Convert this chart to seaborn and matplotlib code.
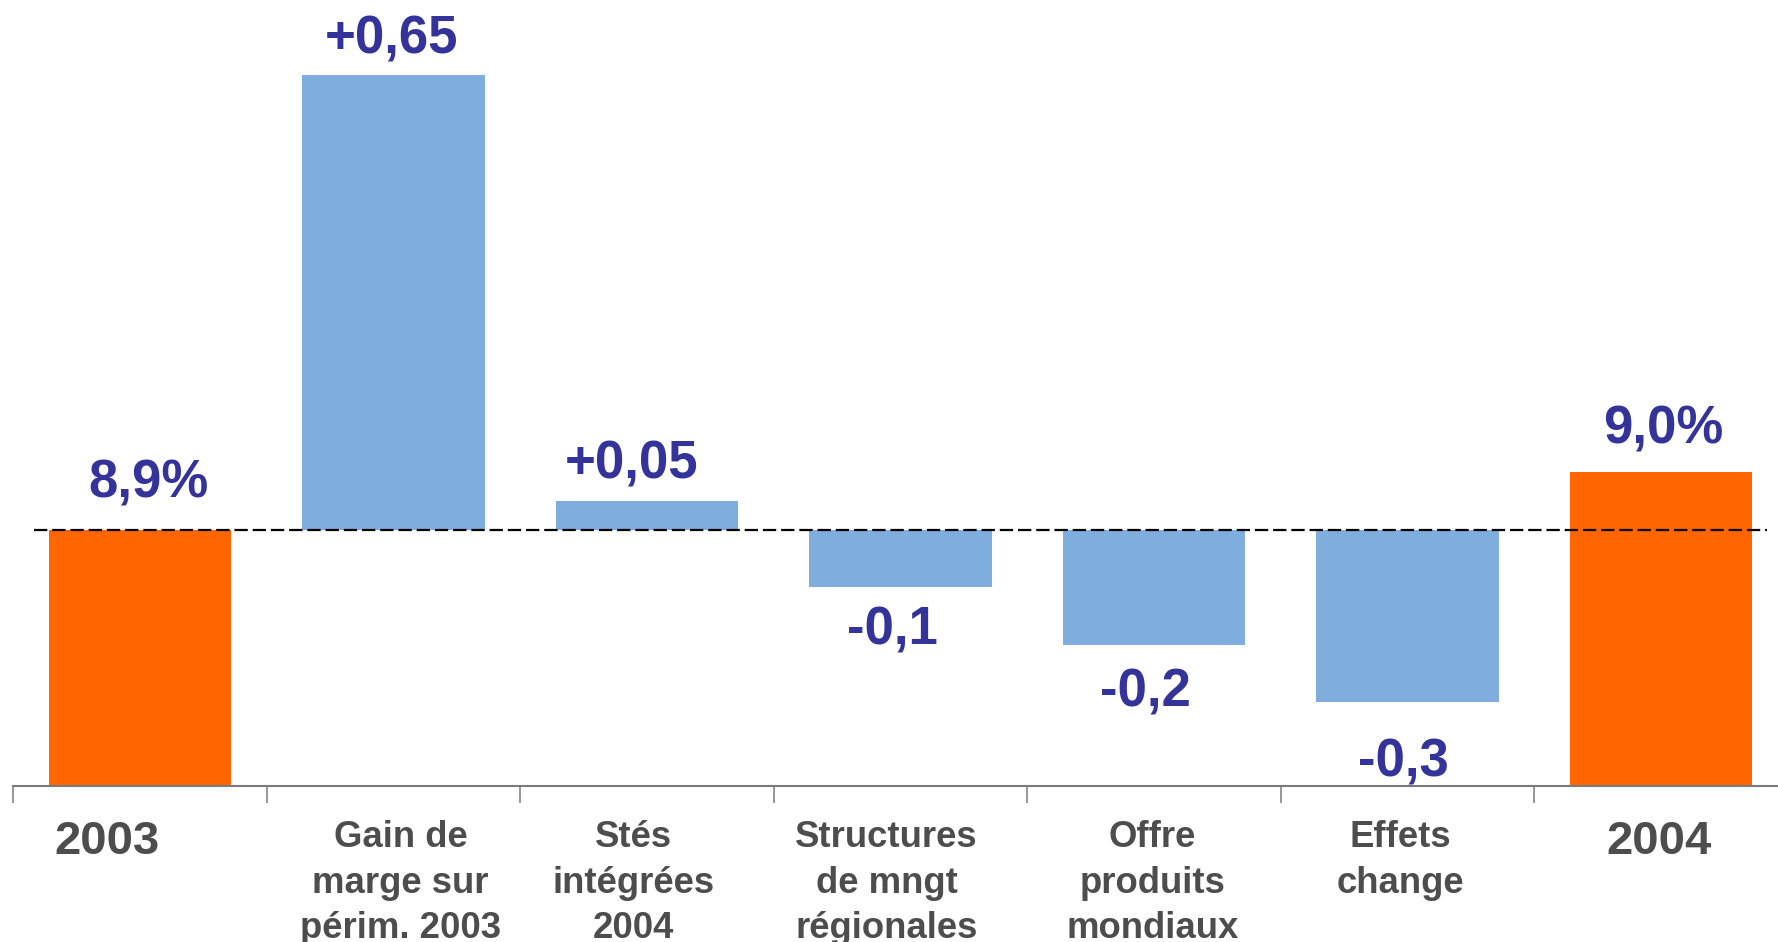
import numpy as np
import pandas as pd
import matplotlib
matplotlib.use("Agg")
import matplotlib.pyplot as plt
import seaborn as sns

# ---------------- data ----------------
categories = ["2003", "Gain de\nmarge sur\npérim. 2003", "Stés\nintégrées\n2004",
              "Structures\nde mngt\nrégionales", "Offre\nproduits\nmondiaux",
              "Effets\nchange", "2004"]
total_categories = ["2003", "2004"]
total_values = [8.9, 9.0]
total_labels = ["8,9%", "9,0%"]
delta_categories = categories[1:6]
delta_values = [0.79, 0.05, -0.10, -0.20, -0.30]   # bar heights as drawn
delta_labels = ["+0,65", "+0,05", "-0,1", "-0,2", "-0,3"]
base_level = 8.9

# ---------------- style ----------------
ORANGE = "#FF6600"
BLUE = "#7EADDE"
LABEL_BLUE = "#333399"
GREY_TXT = "#4D4D4D"
AXIS_GREY = "#7A7A7A"

sns.set_style("white")
plt.rcParams["font.family"] = ["Liberation Sans", "DejaVu Sans"]

W, H = 1778, 942
fig = plt.figure(figsize=(W / 100, H / 100), dpi=100)
ax = fig.add_axes([13.3 / W, 156 / H, 1774.5 / W, 786 / H])

tot_df = pd.DataFrame({"cat": total_categories, "val": total_values})
del_df = pd.DataFrame({"cat": delta_categories, "val": delta_values})

sns.barplot(data=tot_df, x="cat", y="val", order=categories, color=ORANGE,
            saturation=1, width=0.72, errorbar=None, linewidth=0, ax=ax)
sns.barplot(data=del_df, x="cat", y="val", order=categories, color=BLUE,
            saturation=1, width=0.72, errorbar=None, linewidth=0,
            bottom=base_level, ax=ax)

ax.set_xlim(-0.5, 6.5)
ax.set_ylim(8.454, 9.821)
ax.set_xlabel("")
ax.set_ylabel("")
ax.set_yticks([])

# dashed reference line
ax.axhline(base_level, xmin=0.0117, xmax=0.988, color="black", lw=1.6,
           dashes=(6.0, 2.2), zorder=5)

# spines and ticks
for s in ["top", "right", "left"]:
    ax.spines[s].set_visible(False)
ax.spines["bottom"].set_color(AXIS_GREY)
ax.spines["bottom"].set_linewidth(1.5)
ax.set_xticks(range(len(categories)))
ax.set_xticklabels([])
ax.set_xticks(np.arange(-0.5, len(categories), 1.0), minor=True)
ax.tick_params(axis="x", which="major", length=0, bottom=False)
ax.tick_params(axis="x", which="minor", bottom=True, length=12.2, width=1.1,
               color=AXIS_GREY, direction="out")

# category labels
cat_dx = [-0.13, 0.027, -0.055, -0.055, -0.007, -0.03, -0.01]
for i, (cat, dx) in enumerate(zip(categories, cat_dx)):
    big = cat in total_categories
    ax.annotate(cat, xy=(i + dx, 0), xycoords=("data", "axes fraction"),
                xytext=(0, -24.3), textcoords="offset points",
                ha="center", va="top", fontsize=34 if big else 26.3,
                fontweight="bold", color=GREY_TXT, linespacing=1.40,
                annotation_clip=False)

# value labels
tot_dx = {"2003": 0.035, "2004": 0.008}
tot_dy = {"2003": 23.4, "2004": 20.9}
for cat, val, lab in zip(total_categories, total_values, total_labels):
    i = categories.index(cat)
    ax.annotate(lab, xy=(i + tot_dx[cat], val), xytext=(0, tot_dy[cat]),
                textcoords="offset points", ha="center", va="baseline",
                fontsize=38, fontweight="bold", color=LABEL_BLUE)

del_dx = [-0.01, -0.063, -0.032, -0.033, -0.016]
del_dy = [15.8, 15.8, -41.4, -44.6, -53.5]
for cat, val, lab, dx, dy in zip(delta_categories, delta_values, delta_labels, del_dx, del_dy):
    i = categories.index(cat)
    ax.annotate(lab, xy=(i + dx, base_level + val), xytext=(0, dy),
                textcoords="offset points", ha="center", va="baseline",
                fontsize=38, fontweight="bold", color=LABEL_BLUE)

fig.savefig("out.png", dpi=100)
